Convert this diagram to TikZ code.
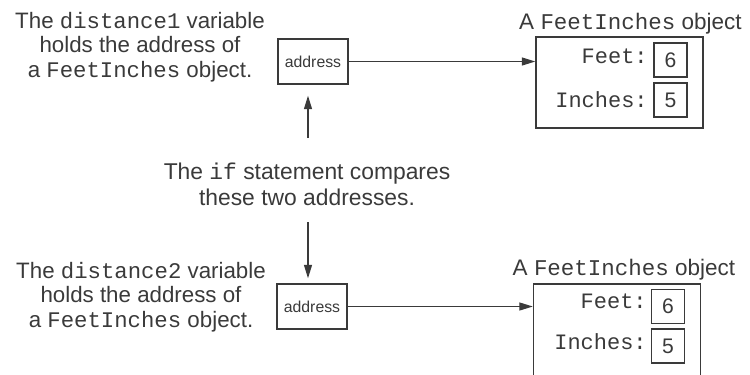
\documentclass[tikz,border=0pt]{standalone}
\usepackage{fontspec}
\setmainfont{Liberation Sans}
\setmonofont{Liberation Mono}
\usepackage{xcolor}
\usetikzlibrary{arrows.meta,positioning}
\definecolor{ink}{HTML}{3A3A3A}

\begin{document}
\begin{tikzpicture}[
  arr/.style={-{Triangle[length=2.7mm, width=1.6mm]}, line width=0.75pt, draw=ink, fill=ink},
  note/.style={align=center, text=ink, font=\fontsize{12.7}{13.9}\selectfont},
  addrbox/.style={draw=ink, line width=0.8pt, minimum width=1.4cm, minimum height=0.9cm, inner sep=0pt, text=ink, font=\fontsize{9}{10}\selectfont},
  objbox/.style={draw=ink, line width=0.8pt, minimum width=3.34cm, minimum height=1.82cm},
  valbox/.style={draw=ink, line width=0.8pt, minimum width=0.66cm, minimum height=0.68cm, inner sep=0pt, text=ink, font=\fontsize{12}{13}\selectfont},
  fld/.style={anchor=base east, inner sep=0pt, text=ink, font=\ttfamily\fontsize{12.5}{13}\selectfont},
  objlbl/.style={anchor=base, inner sep=0pt, text=ink, font=\fontsize{12.8}{14}\selectfont}
]
\useasboundingbox (0,0) rectangle (15,-7.5);

% distance1 side
\node[note] (desc1) at (2.80,-0.94) {The \texttt{distance1} variable\\holds the address of\\a \texttt{FeetInches} object.};
\node[addrbox] (addr1) at (6.26,-1.23) {address};

% First object
\node[objlbl] (lbl1) at (12.61,-0.58) {A \texttt{FeetInches} object};
\node[objbox] (obj1) at (12.39,-1.65) {};
\node[valbox] (feet1) at (13.41,-1.20) {6};
\node[valbox] (inch1) at (13.41,-2.00) {5};
\node[fld] (feetlbl1) at (12.96,-1.26) {Feet:};
\node[fld] (inchlbl1) at (12.96,-2.14) {Inches:};
\draw[arr] (addr1.east) -- (addr1.east -| obj1.west);

% Comparison
\node[note, font=\fontsize{13}{14.7}\selectfont] (cmp) at (6.14,-3.68) {The \texttt{if} statement compares\\these two addresses.};
\coordinate (up0) at (6.16,-2.76);
\coordinate (down0) at (6.16,-4.44);

% distance2 side
\node[note] (desc2) at (2.82,-5.94) {The \texttt{distance2} variable\\holds the address of\\a \texttt{FeetInches} object.};
\node[addrbox] (addr2) at (6.24,-6.13) {address};
\draw[arr, shorten >=0.22cm] (up0) -- (up0 |- addr1.south);
\draw[arr, shorten >=0.1cm] (down0) -- (down0 |- addr2.north);

% Second object
\node[objlbl] (lbl2) at (12.48,-5.50) {A \texttt{FeetInches} object};
\node[objbox, minimum height=1.9cm] (obj2) at (12.34,-6.63) {};
\node[valbox] (feet2) at (13.36,-6.13) {6};
\node[valbox] (inch2) at (13.36,-6.92) {5};
\node[fld] (feetlbl2) at (12.94,-6.16) {Feet:};
\node[fld] (inchlbl2) at (12.94,-6.98) {Inches:};
\draw[arr] (addr2.east) -- (addr2.east -| obj2.west);

\end{tikzpicture}
\end{document}
